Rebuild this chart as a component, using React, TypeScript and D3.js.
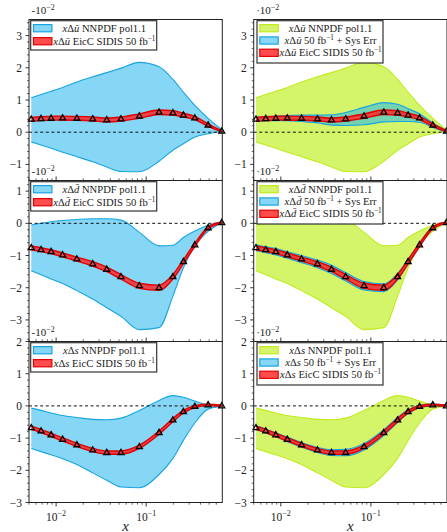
import * as d3 from 'd3';

// x bins of the pseudo data (log spaced)
const xPoints = [0.0053, 0.0068, 0.0088, 0.0118, 0.017, 0.0255, 0.0365, 0.0525, 0.084, 0.139, 0.198, 0.259, 0.347, 0.487, 0.69];

// x Δū  (units of 1e-2)
const uCentral = [0.40, 0.42, 0.43, 0.44, 0.43, 0.41, 0.38, 0.41, 0.50, 0.62, 0.60, 0.53, 0.44, 0.22, 0.03];
const uNnpdfUp = [1.07, 1.17, 1.27, 1.39, 1.56, 1.72, 1.85, 1.99, 2.17, 2.03, 1.64, 1.24, 0.83, 0.43, 0.08];
const uNnpdfLo = [-0.30, -0.40, -0.50, -0.62, -0.76, -0.92, -1.08, -1.22, -1.23, -0.90, -0.56, -0.36, -0.15, -0.05, 0.03];
const uSysErr = [0.06, 0.06, 0.07, 0.08, 0.10, 0.12, 0.16, 0.20, 0.27, 0.30, 0.27, 0.20, 0.13, 0.07, 0.03];
const uStatErr = [0.06, 0.06, 0.06, 0.06, 0.06, 0.06, 0.06, 0.06, 0.07, 0.07, 0.07, 0.06, 0.05, 0.04, 0.02];

// x Δd̄
const dCentral = [-0.76, -0.82, -0.88, -0.98, -1.11, -1.26, -1.43, -1.66, -1.94, -2.00, -1.66, -1.19, -0.67, -0.14, 0.02];
const dNnpdfUp = [-0.05, 0.00, 0.05, 0.09, 0.12, 0.14, 0.14, 0.10, -0.28, -0.70, -0.68, -0.44, -0.24, -0.06, 0.05];
const dNnpdfLo = [-1.47, -1.60, -1.73, -1.87, -2.09, -2.35, -2.62, -2.89, -3.30, -3.24, -2.26, -1.38, -0.70, -0.25, 0.02];
const dSysErr = [0.09, 0.09, 0.10, 0.10, 0.11, 0.12, 0.13, 0.13, 0.13, 0.12, 0.10, 0.08, 0.06, 0.04, 0.02];
const dStatErr = [0.06, 0.06, 0.06, 0.06, 0.06, 0.07, 0.07, 0.07, 0.08, 0.08, 0.07, 0.06, 0.05, 0.03, 0.02];

// x Δs
const sCentral = [-0.68, -0.78, -0.90, -1.04, -1.21, -1.37, -1.45, -1.45, -1.27, -0.83, -0.44, -0.18, -0.02, 0.03, 0.00];
const sNnpdfUp = [-0.07, -0.14, -0.22, -0.30, -0.36, -0.42, -0.43, -0.38, -0.14, 0.17, 0.32, 0.27, 0.15, 0.03, 0.00];
const sNnpdfLo = [-1.32, -1.42, -1.52, -1.64, -1.82, -2.08, -2.31, -2.52, -2.54, -2.13, -1.63, -1.07, -0.53, -0.10, -0.02];
const sSysErr = [0.06, 0.06, 0.06, 0.07, 0.07, 0.08, 0.09, 0.10, 0.10, 0.09, 0.08, 0.06, 0.04, 0.03, 0.02];
const sStatErr = [0.05, 0.05, 0.05, 0.05, 0.05, 0.05, 0.05, 0.05, 0.05, 0.05, 0.05, 0.04, 0.03, 0.02, 0.02];

const xDomain = [0.005, 0.7];
const yDomains = [[-1.5, 3.5], [-3.67, 1.33], [-3, 2]];
const xTickLabels = [{ v: 0.01, exp: '−2' }, { v: 0.1, exp: '−1' }];

const FONT = "'Liberation Serif', 'DejaVu Serif', serif";
const rowTops = [19.5, 180.5, 341.5];
const rowH = 161;
const cols = [[29, 222.3], [253.7, 447]];

const BLUE = { fill: '#22b4ec', op: 0.55, edge: '#18a4e0' };
const GREEN = { fill: '#bdf01a', op: 0.65, edge: '#c2ea1e' };
const RED = { fill: '#ff2424', op: 0.82, edge: '#e40000' };

const flavours = [
  { name: 'u', central: uCentral, up: uNnpdfUp, lo: uNnpdfLo, sys: uSysErr, stat: uStatErr },
  { name: 'd', central: dCentral, up: dNnpdfUp, lo: dNnpdfLo, sys: dSysErr, stat: dStatErr },
  { name: 's', central: sCentral, up: sNnpdfUp, lo: sNnpdfLo, sys: sSysErr, stat: sStatErr },
];

const Flav = ({ name }) => (
  <>
    <tspan fontStyle="italic">x</tspan>
    <tspan>Δ</tspan>
    <tspan fontStyle="italic">{name === 'u' ? 'ū' : name === 'd' ? 'd\u0304' : 's'}</tspan>
  </>
);

const Fb = () => (
  <>
    <tspan> 50 fb</tspan>
    <tspan fontSize="7.2" dy="-4">−1</tspan>
    <tspan dy="4"> </tspan>
  </>
);

function Panel({ col, row, withSys }) {
  const f = flavours[row];
  const [x0, x1] = cols[col];
  const y0 = rowTops[row];
  const y1 = y0 + rowH;
  const x = d3.scaleLog().domain(xDomain).range([x0, x1]);
  const y = d3.scaleLinear().domain(yDomains[row]).range([y1, y0]);
  const idx = d3.range(xPoints.length);

  const band = (lo, hi) =>
    d3.area<number>()
      .x((i) => x(xPoints[i]))
      .y0((i) => y(lo(i)))
      .y1((i) => y(hi(i)))
      .curve(d3.curveMonotoneX)(idx);
  const edge = (fn) =>
    d3.line<number>().x((i) => x(xPoints[i])).y((i) => y(fn(i))).curve(d3.curveMonotoneX)(idx);

  const nn = withSys ? GREEN : BLUE;
  const bandPaths = (lo, hi, c, w) => (
    <g>
      <path d={band(lo, hi)} fill={c.fill} fillOpacity={c.op} stroke="none" />
      <path d={edge(lo)} fill="none" stroke={c.edge} strokeWidth={w} />
      <path d={edge(hi)} fill="none" stroke={c.edge} strokeWidth={w} />
    </g>
  );

  const [ylo, yhi] = yDomains[row];
  const majors = d3.range(Math.ceil(ylo), Math.floor(yhi) + 1);
  const minors = d3.range(Math.ceil(ylo / 0.2 - 1e-6), Math.floor(yhi / 0.2 + 1e-6) + 1)
    .map((i) => i * 0.2)
    .filter((v) => Math.abs(v - Math.round(v)) > 1e-6);

  const xMinors = [];
  [-3, -2, -1].forEach((k) => {
    for (let m = 2; m <= 9; m++) {
      const v = m * Math.pow(10, k);
      if (v >= xDomain[0] && v <= xDomain[1]) xMinors.push(v);
    }
  });
  const bottom = row === 2;
  const tdir = bottom ? 1 : -1;

  const items = withSys
    ? [
        { c: GREEN, label: (<><Flav name={f.name} /><tspan> NNPDF pol1.1</tspan></>) },
        { c: BLUE, label: (<><Flav name={f.name} /><Fb /><tspan>+ Sys Err</tspan></>) },
        { c: RED, label: (<><Flav name={f.name} /><tspan> EicC SIDIS</tspan><Fb /></>) },
      ]
    : [
        { c: BLUE, label: (<><Flav name={f.name} /><tspan> NNPDF pol1.1</tspan></>) },
        { c: RED, label: (<><Flav name={f.name} /><tspan> EicC SIDIS</tspan><Fb /></>) },
      ];
  const lx = x0 + (withSys ? 3.3 : 1.7);
  const ly = y0 + 1.2;
  const gap = withSys ? 12.3 : 13;
  const lw = 126;
  const lh = withSys ? 42.3 : 29.3;
  const patchR = lx + 2.8 + 18.4;

  const triangle = 'M0,-3.3L3,1.9L-3,1.9Z';

  return (
    <g>
      {bandPaths((i) => f.lo[i], (i) => f.up[i], nn, 1.1)}
      {withSys && bandPaths((i) => f.central[i] - f.sys[i], (i) => f.central[i] + f.sys[i], BLUE, 1.1)}
      <line x1={x0} x2={x1} y1={y(0)} y2={y(0)} stroke="#111" strokeWidth={1} strokeDasharray="3,2.6" />
      {bandPaths((i) => f.central[i] - f.stat[i], (i) => f.central[i] + f.stat[i], RED, 1.4)}
      {xPoints.map((xv, i) => (
        <path key={i} d={triangle} transform={`translate(${x(xv)},${y(f.central[i])})`} fill="none" stroke="#000" strokeWidth={1.3} />
      ))}

      {/* frame */}
      <rect x={x0} y={y0} width={x1 - x0} height={y1 - y0} fill="none" stroke="#222" strokeWidth={1} />

      {/* y ticks */}
      {majors.map((v) => (
        <g key={'M' + v}>
          <line x1={x0 - 3.5} x2={x0} y1={y(v)} y2={y(v)} stroke="#222" strokeWidth={0.9} />
          <text x={x0 - 7} y={y(v) + 4} textAnchor="end" fontFamily={FONT} fontSize={11.5} fill="#222">
            {v < 0 ? '−' + Math.abs(v) : v}
          </text>
        </g>
      ))}
      {minors.map((v) => (
        <line key={'m' + v} x1={x0 - 2} x2={x0} y1={y(v)} y2={y(v)} stroke="#222" strokeWidth={0.7} />
      ))}

      {/* x ticks */}
      {xTickLabels.map((t) => (
        <g key={t.v}>
          <line x1={x(t.v)} x2={x(t.v)} y1={y1} y2={y1 + 4 * tdir} stroke="#222" strokeWidth={0.9} />
          {bottom && (
            <text x={x(t.v)} y={y1 + 18} textAnchor="middle" fontFamily={FONT} fontSize={11.5} fill="#222">
              <tspan>10</tspan>
              <tspan fontSize="8" dy="-4.5">{t.exp}</tspan>
            </text>
          )}
        </g>
      ))}
      {xMinors.map((v) => (
        <line key={'xm' + v} x1={x(v)} x2={x(v)} y1={y1} y2={y1 + 2.2 * tdir} stroke="#222" strokeWidth={0.7} />
      ))}
      {bottom && (
        <text x={(x0 + x1) / 2} y={y1 + 28} textAnchor="middle" fontFamily={FONT} fontStyle="italic" fontSize={15} fill="#222">x</text>
      )}

      {/* offset text */}
      <text x={x0 + 2.5} y={y0 - 5.5} fontFamily={FONT} fontSize={11} fill="#222">
        <tspan>{col === 0 ? '-10' : '·10'}</tspan>
        <tspan fontSize="8" dy="-4">−2</tspan>
      </text>

      {/* legend */}
      <rect x={lx} y={ly} width={lw} height={lh} fill="#fff" stroke="#333" strokeWidth={1.2} />
      {items.map((it, i) => {
        const ry = y0 + 8.7 + i * gap;
        return (
          <g key={i}>
            <rect x={lx + 2.8} y={ry - 3.6} width={18.4} height={7.2} fill={it.c.fill} fillOpacity={it.c.op} stroke={it.c.edge} strokeWidth={1.2} />
            <text x={(patchR + lx + lw) / 2} y={ry + 3.6} textAnchor="middle" fontFamily={FONT} fontSize={10.6} fill="#222">
              {it.label}
            </text>
          </g>
        );
      })}
    </g>
  );
}

export default function App() {
  return (
    <svg width={447} height={532} style={{ position: 'absolute', left: 0, top: 0, background: '#fff' }}>
      <rect width={447} height={532} fill="#fff" />
      {[0, 1, 2].map((row) => (
        <g key={row}>
          <Panel col={0} row={row} withSys={false} />
          <Panel col={1} row={row} withSys={true} />
        </g>
      ))}
    </svg>
  );
}
